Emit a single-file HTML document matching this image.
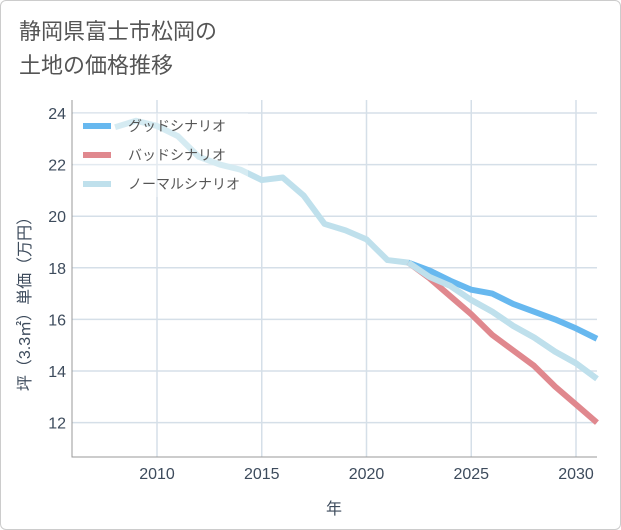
<!DOCTYPE html>
<html><head><meta charset="utf-8"><style>
body{margin:0;background:#fff;}
#card{position:relative;width:619px;height:528px;border:1px solid #ccc;border-radius:6px;background:#fff;font-family:"Liberation Sans","Noto Sans CJK JP",sans-serif;overflow:hidden}
#title{position:absolute;left:18px;top:14px;font-size:22px;line-height:34px;color:#555;}
</style></head><body>
<div id="card">
<div id="title">静岡県富士市松岡の<br>土地の価格推移</div>
<svg id="chart" width="621" height="530" style="position:absolute;left:-1px;top:-1px"></svg>
</div>
<script>
const years=[2008,2009,2010,2011,2012,2013,2014,2015,2016,2017,2018,2019,2020,2021,2022,2023,2024,2025,2026,2027,2028,2029,2030,2031];
const normal=[23.45,23.7,23.5,23.1,22.3,22.0,21.8,21.4,21.5,20.8,19.7,19.45,19.1,18.3,18.2,17.65,17.3,16.75,16.3,15.75,15.3,14.75,14.3,13.7];
const goodYears=[2022,2023,2024,2025,2026,2027,2028,2029,2030,2031];
const good=[18.2,17.9,17.5,17.15,17.0,16.6,16.3,16.0,15.65,15.25];
const bad=[18.2,17.6,16.9,16.2,15.4,14.8,14.2,13.4,12.7,12.0];
const xTicks=[2010,2015,2020,2025,2030];
const yTicks=[12,14,16,18,20,22,24];
const NS="http://www.w3.org/2000/svg";
const svg=document.getElementById('chart');
const L=72,R=597,T=100,B=457;
const x=v=>157+(v-2010)*20.95;
const y=v=>113+(24-v)*25.8;
function el(t,a,p){const e=document.createElementNS(NS,t);for(const k in a)e.setAttribute(k,a[k]);(p||svg).appendChild(e);return e;}
xTicks.forEach(v=>{
const g=el('line',{x1:x(v),x2:x(v),y1:T,y2:B,stroke:'#d5dfe8','stroke-width':1.5});


const t=el('text',{x:x(v),y:479,'text-anchor':'middle','font-size':16,fill:'#3d4b5c'});t.textContent=v;


});
yTicks.forEach(v=>{
const g=el('line',{x1:L,x2:R,y1:y(v),y2:y(v),stroke:'#d5dfe8','stroke-width':1.5});


const t=el('text',{x:66,y:y(v)+6,'text-anchor':'end','font-size':16,fill:'#3d4b5c'});t.textContent=v;


});
const ax=el('path',{d:`M${L},${T}V${B}H${R}`,fill:'none',stroke:'#999','stroke-width':1});


function line(xs,vs,c,n){const p=el('polyline',{points:xs.map((yr,i)=>x(yr)+','+y(vs[i])).join(' '),fill:'none',stroke:c,'stroke-width':6,'stroke-linejoin':'round'});

}
line(years,normal,'#bfe0ec','normal-scenario-line');
line(goodYears,bad,'#e0888e','bad-scenario-line');
line(goodYears,good,'#67b8ef','good-scenario-line');
line(years.slice(14),normal.slice(14),'#bfe0ec','normal-scenario-line-front');
const lb=el('rect',{x:73,y:113,width:175,height:84,fill:'rgba(255,255,255,0.35)'});


[['グッドシナリオ','#67b8ef'],['バッドシナリオ','#e0888e'],['ノーマルシナリオ','#bfe0ec']].forEach((d,i)=>{
const yy=126+i*29;
const s=el('line',{x1:83,x2:111,y1:yy,y2:yy,stroke:d[1],'stroke-width':6});


const t=el('text',{x:128,y:yy+5,'font-size':14,fill:'#555'});t.textContent=d[0];


});
const xt=el('text',{x:334,y:514,'text-anchor':'middle','font-size':16,fill:'#3d4b5c'});xt.textContent='年';


const yt=el('text',{x:0,y:0,'text-anchor':'middle','font-size':16,fill:'#3d4b5c',transform:'translate(30,300) rotate(-90)'});yt.textContent='坪（3.3㎡）単価（万円）';


</script>
</body></html>
